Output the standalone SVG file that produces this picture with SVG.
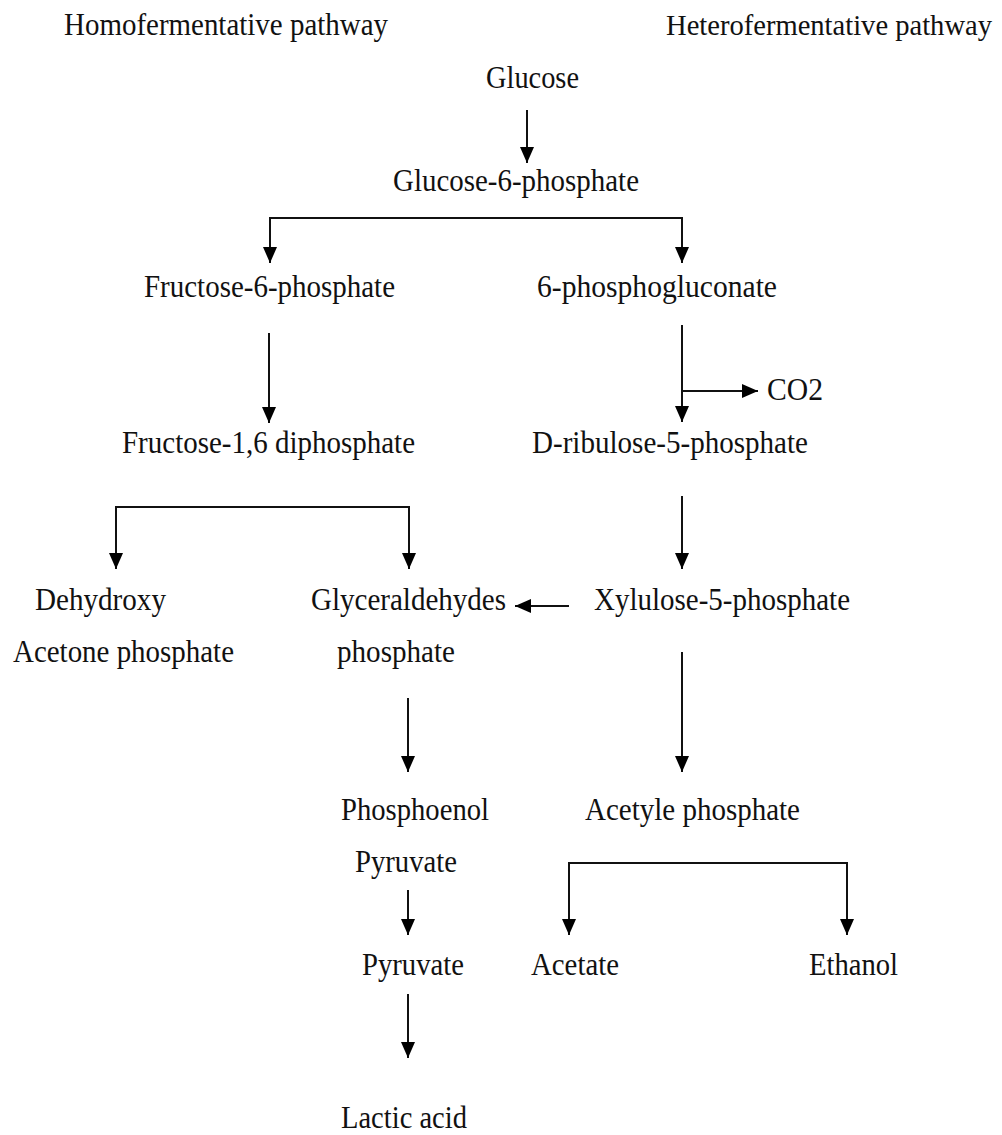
<svg xmlns="http://www.w3.org/2000/svg" width="1002" height="1135" viewBox="0 0 1002 1135">
<defs>
<style>
text{font-family:"Liberation Serif","Times New Roman",serif;font-size:31px;fill:#111}
.t{font-size:29px}
.c{fill:none;stroke:#111;stroke-width:2}
</style>
<marker id="ah" viewBox="0 0 16 14" refX="16" refY="7" markerWidth="16" markerHeight="14" markerUnits="userSpaceOnUse" orient="auto">
<path d="M0,0 L16,7 L0,14 Z" fill="#000"/>
</marker>
</defs>
<rect width="1002" height="1135" fill="#fff"/>
<g id="titles">
<text x="64" y="35" textLength="324" lengthAdjust="spacingAndGlyphs">Homofermentative pathway</text>
<text class="t" x="666" y="35" textLength="326" lengthAdjust="spacingAndGlyphs">Heterofermentative pathway</text>
</g>
<g id="glucose"><text x="486" y="88" textLength="93" lengthAdjust="spacingAndGlyphs">Glucose</text></g>
<g id="g6p"><text x="393" y="191" textLength="246" lengthAdjust="spacingAndGlyphs">Glucose-6-phosphate</text></g>
<g id="f6p"><text x="144" y="297" textLength="251" lengthAdjust="spacingAndGlyphs">Fructose-6-phosphate</text></g>
<g id="pgluc"><text x="537" y="297" textLength="240" lengthAdjust="spacingAndGlyphs">6-phosphogluconate</text></g>
<g id="co2"><text x="767" y="400" textLength="56" lengthAdjust="spacingAndGlyphs">CO2</text></g>
<g id="fdp"><text x="122" y="453" textLength="293" lengthAdjust="spacingAndGlyphs">Fructose-1,6 diphosphate</text></g>
<g id="ru5p"><text x="532" y="453" textLength="276" lengthAdjust="spacingAndGlyphs">D-ribulose-5-phosphate</text></g>
<g id="dhap">
<text x="35" y="610" textLength="131" lengthAdjust="spacingAndGlyphs">Dehydroxy</text>
<text x="13" y="662" textLength="221" lengthAdjust="spacingAndGlyphs">Acetone phosphate</text>
</g>
<g id="gap">
<text x="311" y="610" textLength="195" lengthAdjust="spacingAndGlyphs">Glyceraldehydes</text>
<text x="337" y="662" textLength="118" lengthAdjust="spacingAndGlyphs">phosphate</text>
</g>
<g id="xu5p"><text x="594" y="610" textLength="256" lengthAdjust="spacingAndGlyphs">Xylulose-5-phosphate</text></g>
<g id="pep">
<text x="341" y="820" textLength="148" lengthAdjust="spacingAndGlyphs">Phosphoenol</text>
<text x="355" y="872" textLength="102" lengthAdjust="spacingAndGlyphs">Pyruvate</text>
</g>
<g id="acp"><text x="585" y="820" textLength="215" lengthAdjust="spacingAndGlyphs">Acetyle phosphate</text></g>
<g id="pyruvate"><text x="362" y="975" textLength="102" lengthAdjust="spacingAndGlyphs">Pyruvate</text></g>
<g id="acetate"><text x="531" y="975" textLength="88" lengthAdjust="spacingAndGlyphs">Acetate</text></g>
<g id="ethanol"><text x="809" y="975" textLength="89" lengthAdjust="spacingAndGlyphs">Ethanol</text></g>
<g id="lactic"><text x="341" y="1128" textLength="126" lengthAdjust="spacingAndGlyphs">Lactic acid</text></g>
<g id="connectors">
<path class="c" d="M527,110 V163" marker-end="url(#ah)"/>
<path class="c" d="M529,218 H270 V263" marker-end="url(#ah)"/>
<path class="c" d="M529,218 H682 V263" marker-end="url(#ah)"/>
<path class="c" d="M269,333 V423" marker-end="url(#ah)"/>
<path class="c" d="M682,325 V422" marker-end="url(#ah)"/>
<path class="c" d="M682,391 H758" marker-end="url(#ah)"/>
<path class="c" d="M262,507 H116 V569" marker-end="url(#ah)"/>
<path class="c" d="M262,507 H409 V569" marker-end="url(#ah)"/>
<path class="c" d="M682,496 V569" marker-end="url(#ah)"/>
<path class="c" d="M569,606 H515" marker-end="url(#ah)"/>
<path class="c" d="M408,698 V772" marker-end="url(#ah)"/>
<path class="c" d="M682,652 V772" marker-end="url(#ah)"/>
<path class="c" d="M708,863 H569 V935" marker-end="url(#ah)"/>
<path class="c" d="M708,863 H847 V935" marker-end="url(#ah)"/>
<path class="c" d="M408,890 V935" marker-end="url(#ah)"/>
<path class="c" d="M408,994 V1058" marker-end="url(#ah)"/>
</g>
</svg>
